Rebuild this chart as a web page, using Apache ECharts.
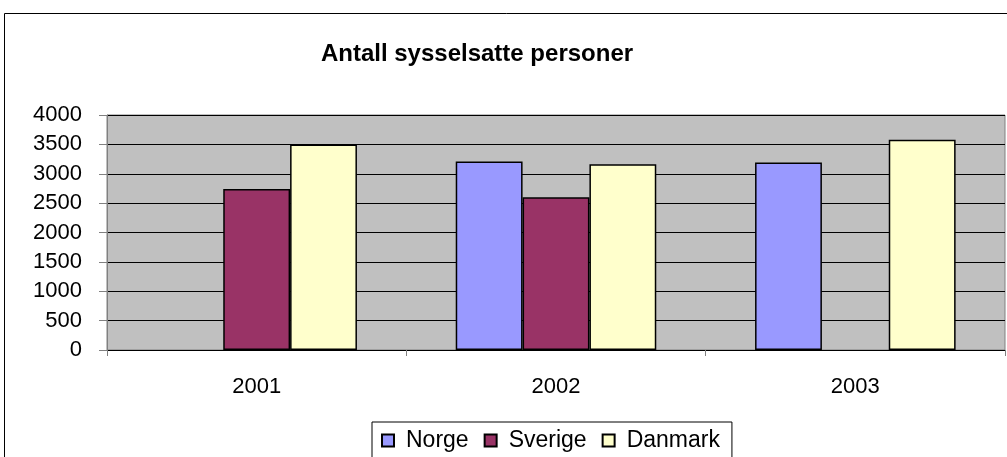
<!DOCTYPE html>
<html>
<head>
<meta charset="utf-8">
<script src="https://cdn.jsdelivr.net/npm/echarts@6/dist/echarts.min.js"></script>
<style>
    html, body { margin: 0; padding: 0; background: #fff; }
    #chart { width: 1007px; height: 457px; }
</style>
</head>
<body>
<div id="chart"></div>
<script>
    var years = ['2001', '2002', '2003'];
    var seriesNames = ['Norge', 'Sverige', 'Danmark'];
    var norge = [null, 3210, 3190];
    var sverige = [2740, 2600, null];
    var danmark = [3500, 3160, 3580];
    var seriesColors = ['#9999FF', '#993366', '#FFFFCC'];

    var font = 'Liberation Sans, Arial, sans-serif';
    var seriesData = [norge, sverige, danmark];

    var chart = echarts.init(document.getElementById('chart'));
    var option = {
        animation: false,
        backgroundColor: '#fff',
        graphic: [{
            type: 'rect',
            shape: { x: 4.5, y: 13.5, width: 1020, height: 460 },
            style: { fill: 'none', stroke: '#000', lineWidth: 1 },
            z: -10
        }],
        title: {
            text: 'Antall sysselsatte personer',
            left: 472,
            top: 37,
            textAlign: 'center',
            textStyle: {
                fontFamily: font,
                fontSize: 24,
                fontWeight: 'bold',
                color: '#000'
            }
        },
        legend: {
            data: seriesNames,
            left: 372,
            top: 422,
            padding: [7, 12, 30, 9],
            borderColor: '#000',
            borderWidth: 1,
            itemWidth: 12,
            itemHeight: 12,
            itemGap: 15,
            icon: 'rect',
            textStyle: {
                fontFamily: font,
                fontSize: 23,
                color: '#000',
                padding: [0, 0, 0, 7]
            }
        },
        grid: {
            left: 107,
            right: 2,
            top: 115,
            bottom: 107,
            show: true,
            backgroundColor: '#C0C0C0',
            borderColor: '#808080',
            borderWidth: 1
        },
        xAxis: {
            type: 'category',
            data: years,
            axisLine: { lineStyle: { color: '#000', width: 1 } },
            axisTick: { show: true, length: 6, lineStyle: { color: '#808080' } },
            axisLabel: {
                fontFamily: font,
                fontSize: 22,
                color: '#000',
                margin: 26
            }
        },
        yAxis: {
            type: 'value',
            min: 0,
            max: 4000,
            interval: 500,
            axisLine: { show: true, lineStyle: { color: '#808080', width: 1 } },
            axisTick: { show: true, length: 8, lineStyle: { color: '#808080' } },
            splitLine: { lineStyle: { color: '#000', width: 1 } },
            axisLabel: {
                fontFamily: font,
                fontSize: 22,
                color: '#000',
                margin: 25,
                formatter: function (v) { return String(v); }
            }
        },
        series: seriesNames.map(function (name, i) {
            return {
                name: name,
                type: 'bar',
                data: seriesData[i],
                barGap: '0%',
                barCategoryGap: '33%',
                itemStyle: {
                    color: seriesColors[i],
                    borderColor: '#000',
                    borderWidth: 1.5
                }
            };
        })
    };
    chart.setOption(option);
</script>
</body>
</html>
